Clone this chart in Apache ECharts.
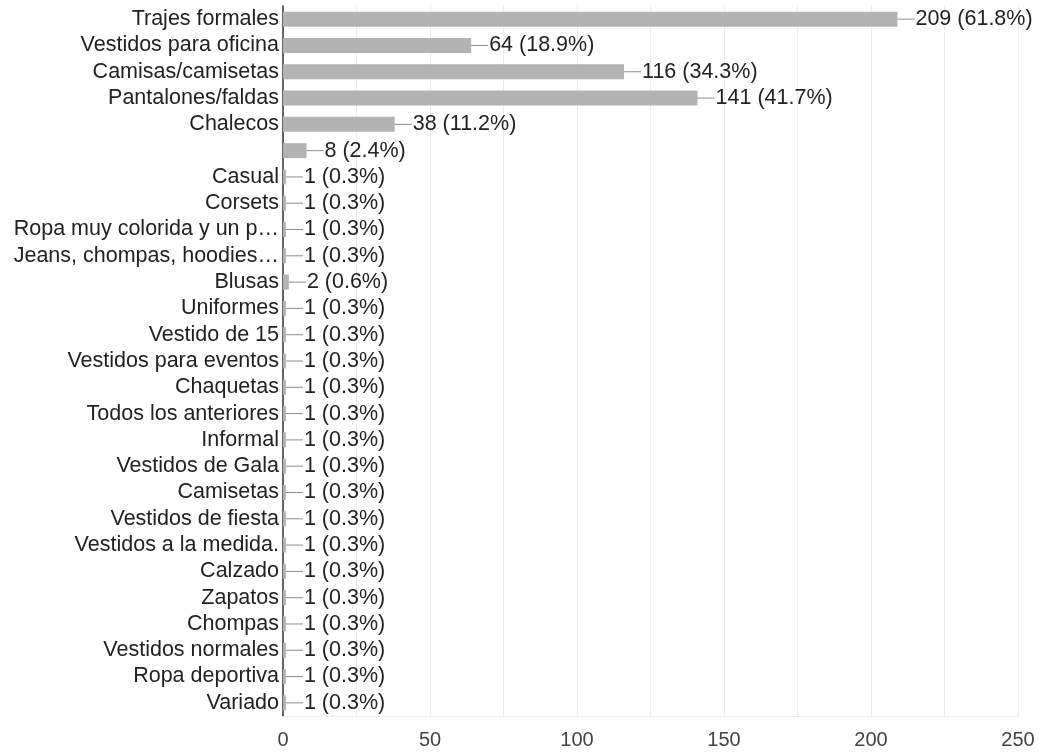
<!DOCTYPE html>
<html>
<head>
<meta charset="utf-8">
<script src="https://cdn.jsdelivr.net/npm/echarts@6/dist/echarts.min.js"></script>
<style>
  html, body { margin: 0; padding: 0; background: #fff; }
  #chart { width: 1041px; height: 755px; }
</style>
</head>
<body>
<div id="chart"></div>
<script>
// Responses per clothing type (count and share of respondents)
const categories = [
  'Trajes formales', 'Vestidos para oficina', 'Camisas/camisetas', 'Pantalones/faldas',
  'Chalecos', '', 'Casual', 'Corsets', 'Ropa muy colorida y un p…',
  'Jeans, chompas, hoodies…', 'Blusas', 'Uniformes', 'Vestido de 15',
  'Vestidos para eventos', 'Chaquetas', 'Todos los anteriores', 'Informal',
  'Vestidos de Gala', 'Camisetas', 'Vestidos de fiesta', 'Vestidos a la medida.',
  'Calzado', 'Zapatos', 'Chompas', 'Vestidos normales', 'Ropa deportiva', 'Variado'
];
const counts = [209, 64, 116, 141, 38, 8, 1, 1, 1, 1, 2, 1, 1, 1, 1, 1, 1, 1, 1, 1, 1, 1, 1, 1, 1, 1, 1];
const percents = ['61.8', '18.9', '34.3', '41.7', '11.2', '2.4', '0.3', '0.3', '0.3', '0.3', '0.6',
  '0.3', '0.3', '0.3', '0.3', '0.3', '0.3', '0.3', '0.3', '0.3', '0.3', '0.3', '0.3', '0.3', '0.3', '0.3', '0.3'];
const xTicks = [0, 50, 100, 150, 200, 250];

const FONT = '"Liberation Sans", Arial, sans-serif';
const chart = echarts.init(document.getElementById('chart'));

chart.setOption({
  animation: false,
  backgroundColor: '#ffffff',
  grid: { left: 283, right: 23, top: 6, bottom: 39, containLabel: false },
  xAxis: {
    type: 'value',
    min: 0,
    max: 250,
    interval: 25,
    axisLine: { show: true, lineStyle: { color: '#ececec', width: 1 } },
    axisTick: { show: false },
    splitLine: { show: true, lineStyle: { color: '#ececec', width: 1 } },
    axisLabel: {
      color: '#444',
      fontFamily: FONT,
      fontSize: 20,
      margin: 14,
      formatter: v => (xTicks.indexOf(v) >= 0 ? String(v) : '')
    }
  },
  yAxis: {
    type: 'category',
    data: categories,
    inverse: true,
    axisLine: { show: true, lineStyle: { color: '#333', width: 1.5 } },
    axisTick: { show: false },
    splitLine: { show: false },
    axisLabel: {
      color: '#222',
      fontFamily: FONT,
      fontSize: 21.5,
      margin: 4,
      interval: 0
    }
  },
  series: [{
    type: 'bar',
    data: counts,
    barWidth: 15,
    itemStyle: { color: '#b3b3b3' },
    label: {
      show: true,
      position: 'right',
      distance: 0,
      formatter: p => '{ln|}{v|' + counts[p.dataIndex] + ' (' + percents[p.dataIndex] + '%)}',
      rich: {
        ln: { width: 17, height: 1, backgroundColor: '#8c8c8c' },
        v: { color: '#222', fontFamily: FONT, fontSize: 21.5, padding: [0, 0, 0, 1] }
      }
    }
  }]
});
</script>
</body>
</html>
